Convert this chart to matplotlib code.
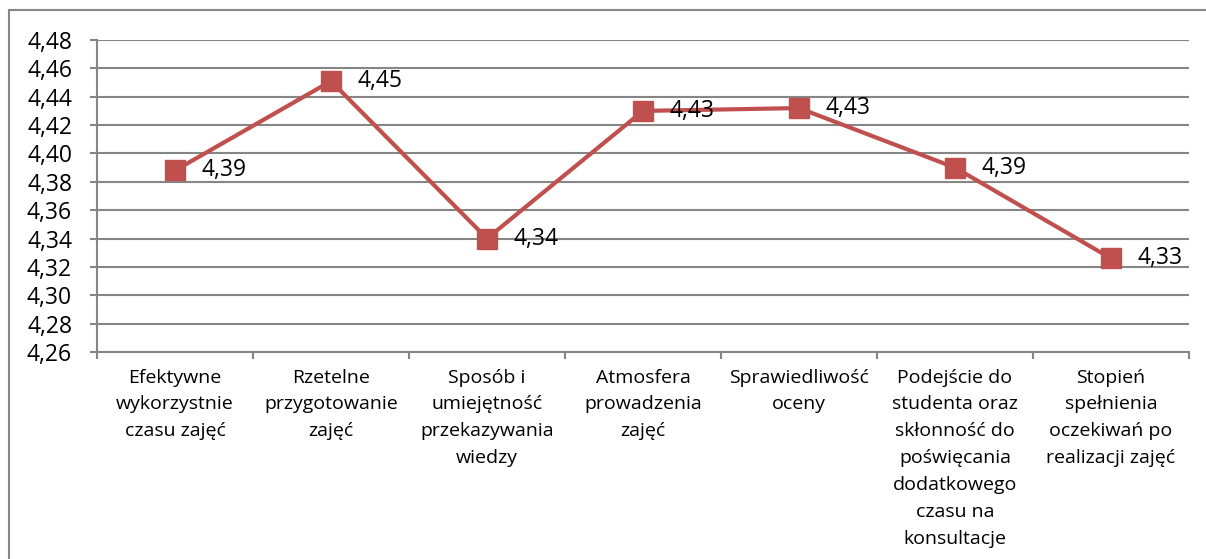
import matplotlib.pyplot as plt
from matplotlib.patches import Rectangle
from matplotlib.ticker import FixedLocator

plt.rcParams['font.family'] = ['Open Sans', 'DejaVu Sans']

categories = [
    'Efektywne\nwykorzystnie\nczasu zajęć',
    'Rzetelne\nprzygotowanie\nzajęć',
    'Sposób i\numiejętność\nprzekazywania\nwiedzy',
    'Atmosfera\nprowadzenia\nzajęć',
    'Sprawiedliwość\noceny',
    'Podejście do\nstudenta oraz\nskłonność do\npoświęcania\ndodatkowego\nczasu na\nkonsultacje',
    'Stopień\nspełnienia\noczekiwań po\nrealizacji zajęć',
]
values = [4.388, 4.451, 4.340, 4.430, 4.432, 4.390, 4.326]
y_ticks = [4.26, 4.28, 4.30, 4.32, 4.34, 4.36, 4.38, 4.40, 4.42, 4.44, 4.46, 4.48]

line_color = '#C0504D'
grid_color = '#868686'

fig = plt.figure(figsize=(12.06, 5.59), dpi=100)
ax = fig.add_axes([97 / 1206, 1 - 352 / 559, (1189 - 97) / 1206, (352 - 40) / 559])

x = list(range(len(values)))
ax.plot(x, values, color=line_color, linewidth=3, marker='s', markersize=14,
        markerfacecolor=line_color, markeredgecolor=line_color, zorder=3)

# data labels to the right of each marker
for xi, v in zip(x, values):
    ax.annotate(f'{v:.2f}'.replace('.', ','), (xi, v), xytext=(19, 0),
                textcoords='offset points', ha='left', va='center',
                fontsize=16.5, color='black', zorder=4)

ax.set_xlim(-0.5, len(values) - 0.5)
ax.set_ylim(4.26, 4.48)
ax.set_yticks(y_ticks)
ax.set_yticklabels([f'{t:.2f}'.replace('.', ',') for t in y_ticks], fontsize=16.5)
ax.yaxis.grid(True, color=grid_color, linewidth=1.5)
ax.set_axisbelow(True)

# boundaries as major ticks, labels at category centers as minor ticks
ax.xaxis.set_major_locator(FixedLocator([i - 0.5 for i in range(len(values) + 1)]))
ax.set_xticklabels([])
ax.xaxis.set_minor_locator(FixedLocator(x))
ax.set_xticklabels(categories, minor=True, fontsize=14, linespacing=1.63)
ax.tick_params(axis='x', which='major', length=5, width=1.5, color=grid_color)
ax.tick_params(axis='x', which='minor', length=0, pad=12)
ax.tick_params(axis='y', length=5, width=1.5, color=grid_color, pad=13)

for side in ['top', 'right']:
    ax.spines[side].set_visible(False)
for side in ['left', 'bottom']:
    ax.spines[side].set_color(grid_color)
    ax.spines[side].set_linewidth(1.5)

# outer chart frame
fig.patches.append(Rectangle((9 / 1206, -0.1), 1.1, 1.1 - 10 / 559,
                             transform=fig.transFigure, fill=False,
                             edgecolor=grid_color, linewidth=1.5))

fig.savefig('out.png', dpi=100)
